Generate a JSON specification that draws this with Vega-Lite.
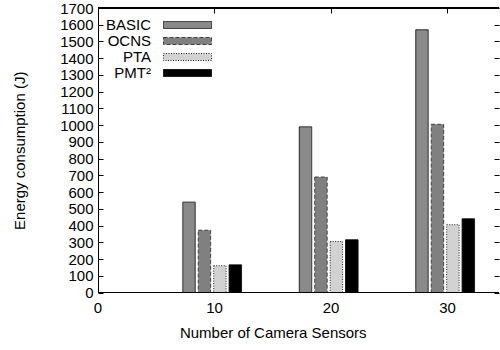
{
  "$schema": "https://vega.github.io/schema/vega-lite/v6.json",
  "width": 500,
  "height": 350,
  "autosize": {"type": "fit", "contains": "padding"},
  "padding": {"left": 12, "top": 1, "right": 0, "bottom": -2.5},
  "config": {
    "view": {"stroke": null},
    "font": "Liberation Sans",
    "axis": {"grid": false, "domainColor": "black", "tickColor": "black", "labelColor": "black", "titleColor": "black", "labelFontSize": 15, "titleFontSize": 15, "titleFontWeight": "normal", "labelFont": "Liberation Sans", "titleFont": "Liberation Sans", "domainWidth": 1, "tickWidth": 1},
    "legend": {"labelFont": "Liberation Sans", "labelFontSize": 15, "labelColor": "black"}
  },
  "data": {"values": [
    {"sensors": 10, "series": "BASIC", "energy": 540},
    {"sensors": 10, "series": "OCNS", "energy": 372},
    {"sensors": 10, "series": "PTA", "energy": 160},
    {"sensors": 10, "series": "PMT²", "energy": 165},
    {"sensors": 20, "series": "BASIC", "energy": 990},
    {"sensors": 20, "series": "OCNS", "energy": 690},
    {"sensors": 20, "series": "PTA", "energy": 305},
    {"sensors": 20, "series": "PMT²", "energy": 315},
    {"sensors": 30, "series": "BASIC", "energy": 1570},
    {"sensors": 30, "series": "OCNS", "energy": 1005},
    {"sensors": 30, "series": "PTA", "energy": 405},
    {"sensors": 30, "series": "PMT²", "energy": 440}
  ]},
  "layer": [
    {
      "mark": {"type": "bar", "strokeWidth": 1},
      "encoding": {
        "x": {"field": "sensors", "type": "ordinal",
              "scale": {"type": "band", "domain": [0, 10, 20, 30], "range": [-58.25, 407.75], "paddingInner": 0, "paddingOuter": 0},
              "axis": {"labelAngle": 0, "domain": false, "ticks": false, "labelPadding": 8, "title": ["Number of Camera Sensors", " "], "titleLineHeight": 12, "titleBaseline": "alphabetic", "titleY": 45}},
        "xOffset": {"field": "series", "type": "nominal", "sort": ["BASIC", "OCNS", "PTA", "PMT²"],
                    "scale": {"type": "band", "range": [26.55, 85.3], "paddingInner": 0.197, "paddingOuter": 0}},
        "y": {"field": "energy", "type": "quantitative", "stack": null, "scale": {"domain": [0, 1700], "nice": false},
              "axis": {"values": [0,100,200,300,400,500,600,700,800,900,1000,1100,1200,1300,1400,1500,1600,1700], "format": "d", "tickSize": -5, "labelPadding": 10, "title": "Energy consumption (J)", "titlePadding": 32}},
        "fill": {"field": "series", "type": "nominal",
                 "scale": {"domain": ["BASIC", "OCNS", "PTA", "PMT²"], "range": ["#8a8a8a", "#808080", "#d2d2d2", "#000000"]},
                 "legend": {"orient": "none", "legendX": 82, "legendY": 9.5, "title": null, "symbolType": "M-6.86,-1H6.86V1H-6.86Z", "symbolSize": 49, "labelAlign": "right", "labelOffset": -44, "rowPadding": -0.3, "symbolStrokeWidth": 1}},
        "stroke": {"field": "series", "type": "nominal",
                   "scale": {"domain": ["BASIC", "OCNS", "PTA", "PMT²"], "range": ["#202020", "#404040", "#202020", "#000000"]}},
        "strokeDash": {"field": "series", "type": "nominal",
                   "scale": {"domain": ["BASIC", "OCNS", "PTA", "PMT²"], "range": [[1, 0], [4, 2], [1, 1.5], [1, 0]]}}
      }
    },
    {
      "mark": {"type": "tick", "opacity": 0},
      "encoding": {
        "x": {"field": "sensors", "type": "ordinal", "axis": {"orient": "top", "domain": false, "tickSize": -5, "labels": false, "title": null}},
        "y": {"field": "energy", "type": "quantitative", "axis": {"orient": "right", "values": [0,100,200,300,400,500,600,700,800,900,1000,1100,1200,1300,1400,1500,1600,1700], "tickSize": -5, "labels": false, "domain": false, "title": null}}
      }
    },
    {
      "mark": {"type": "rule", "color": "black", "strokeWidth": 1},
      "encoding": {"y": {"datum": 0, "type": "quantitative", "axis": null}}
    },
    {
      "mark": {"type": "rule", "color": "black", "strokeWidth": 1},
      "encoding": {"y": {"datum": 1700, "type": "quantitative", "axis": null}}
    }
  ],
  "resolve": {"axis": {"x": "independent", "y": "independent"}}
}
